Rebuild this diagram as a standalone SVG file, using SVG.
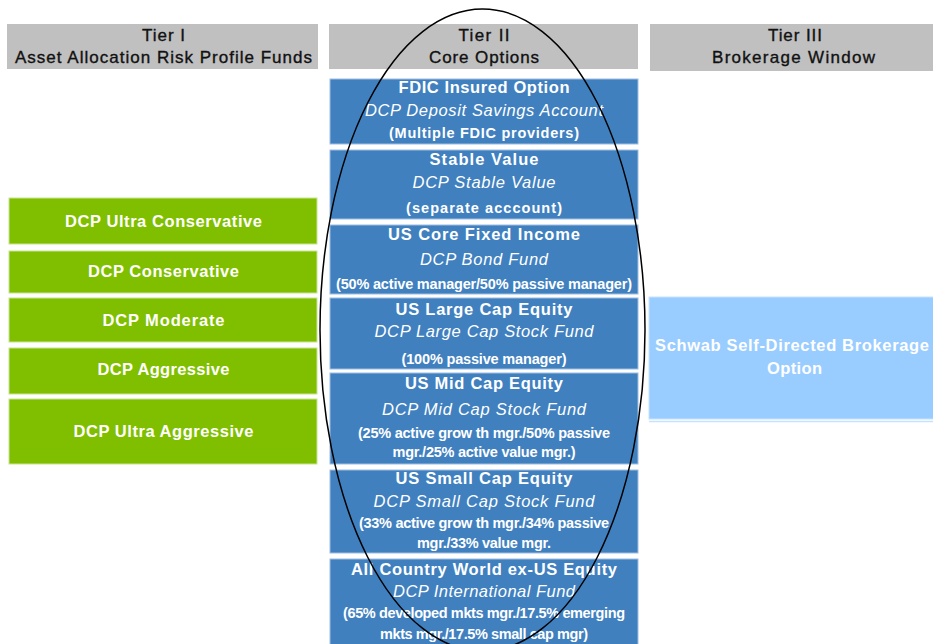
<svg xmlns="http://www.w3.org/2000/svg" width="933" height="644" viewBox="0 0 933 644">
  <style>
    .hdr { fill: #C0C0C0; }
    .core { fill: #4080BF; stroke: #9DBEE2; stroke-width: 1; }
    .risk { fill: #80BF00; stroke: #C8E38F; stroke-width: 1; }
    .brk { fill: #99CCFF; stroke: #C6E2FF; stroke-width: 1; }
    text { font-family: "Liberation Sans", Arial, sans-serif; text-anchor: middle; }
    .ht { font-size: 17px; fill: #111111; stroke: #111111; stroke-width: 0.35; }
    .t { font-size: 16.5px; font-weight: bold; fill: #FFFFFF; }
    .i { font-size: 16.5px; font-style: italic; fill: #FFFFFF; }
    .s { font-size: 14.5px; font-weight: bold; fill: #FFFFFF; }
    .ring { fill: none; stroke: #000000; stroke-width: 1.5; }
  </style>

  <!-- Column headers -->
  <g id="header-tier1">
    <rect class="hdr" x="7" y="24" width="311" height="45"/>
    <text class="ht" x="163.5" y="41" textLength="43" lengthAdjust="spacing">Tier I</text>
    <text class="ht" x="163.5" y="63" textLength="297" lengthAdjust="spacing">Asset Allocation Risk Profile Funds</text>
  </g>
  <g id="header-tier2">
    <rect class="hdr" x="329" y="24" width="309" height="45"/>
    <text class="ht" x="484" y="41" textLength="51" lengthAdjust="spacing">Tier II</text>
    <text class="ht" x="484" y="63" textLength="110" lengthAdjust="spacing">Core Options</text>
  </g>
  <g id="header-tier3">
    <rect class="hdr" x="650" y="24" width="290" height="47"/>
    <text class="ht" x="795" y="41" textLength="54" lengthAdjust="spacing">Tier III</text>
    <text class="ht" x="793.5" y="63" textLength="163" lengthAdjust="spacing">Brokerage Window</text>
  </g>

  <!-- Tier I: risk profile funds -->
  <g id="fund-ultra-conservative">
    <rect class="risk" x="9" y="198" width="308" height="46"/>
    <text class="t" x="163.5" y="226.5" textLength="197" lengthAdjust="spacing">DCP Ultra Conservative</text>
  </g>
  <g id="fund-conservative">
    <rect class="risk" x="9" y="251" width="308" height="42"/>
    <text class="t" x="163.5" y="276.5" textLength="151" lengthAdjust="spacing">DCP Conservative</text>
  </g>
  <g id="fund-moderate">
    <rect class="risk" x="9" y="298" width="308" height="44"/>
    <text class="t" x="163.5" y="325.5" textLength="122" lengthAdjust="spacing">DCP Moderate</text>
  </g>
  <g id="fund-aggressive">
    <rect class="risk" x="9" y="348" width="308" height="46"/>
    <text class="t" x="163.5" y="374.5" textLength="132" lengthAdjust="spacing">DCP Aggressive</text>
  </g>
  <g id="fund-ultra-aggressive">
    <rect class="risk" x="9" y="399" width="308" height="65"/>
    <text class="t" x="163.5" y="437" textLength="180" lengthAdjust="spacing">DCP Ultra Aggressive</text>
  </g>

  <!-- Tier II: core options -->
  <g id="core-fdic">
    <rect class="core" x="330" y="79" width="308" height="65"/>
    <text class="t" x="484" y="93" textLength="171" lengthAdjust="spacing">FDIC Insured Option</text>
    <text class="i" x="484" y="115.5" textLength="238" lengthAdjust="spacing">DCP Deposit Savings Account</text>
    <text class="s" x="484" y="138" textLength="190" lengthAdjust="spacing">(Multiple FDIC providers)</text>
  </g>
  <g id="core-stable-value">
    <rect class="core" x="330" y="150" width="308" height="69"/>
    <text class="t" x="484" y="164.5" textLength="109" lengthAdjust="spacing">Stable Value</text>
    <text class="i" x="484" y="187.5" textLength="143" lengthAdjust="spacing">DCP Stable Value</text>
    <text class="s" x="484" y="213" textLength="156" lengthAdjust="spacing">(separate acccount)</text>
  </g>
  <g id="core-fixed-income">
    <rect class="core" x="330" y="225" width="308" height="69"/>
    <text class="t" x="484" y="239.5" textLength="192" lengthAdjust="spacing">US Core Fixed Income</text>
    <text class="i" x="484" y="264.5" textLength="128" lengthAdjust="spacing">DCP Bond Fund</text>
    <text class="s" x="484" y="289" textLength="296" lengthAdjust="spacing">(50% active manager/50% passive manager)</text>
  </g>
  <g id="core-large-cap">
    <rect class="core" x="330" y="298" width="308" height="71"/>
    <text class="t" x="484" y="314.5" textLength="177" lengthAdjust="spacing">US Large Cap Equity</text>
    <text class="i" x="484" y="336.5" textLength="219" lengthAdjust="spacing">DCP Large Cap Stock Fund</text>
    <text class="s" x="484" y="364" textLength="165" lengthAdjust="spacing">(100% passive manager)</text>
  </g>
  <g id="core-mid-cap">
    <rect class="core" x="330" y="373" width="308" height="91"/>
    <text class="t" x="484" y="388.5" textLength="158" lengthAdjust="spacing">US Mid Cap Equity</text>
    <text class="i" x="484" y="414.5" textLength="204" lengthAdjust="spacing">DCP Mid Cap Stock Fund</text>
    <text class="s" x="484" y="438" textLength="252" lengthAdjust="spacing">(25% active grow th mgr./50% passive</text>
    <text class="s" x="484" y="457" textLength="183" lengthAdjust="spacing">mgr./25% active value mgr.)</text>
  </g>
  <g id="core-small-cap">
    <rect class="core" x="330" y="470" width="308" height="83"/>
    <text class="t" x="484" y="483.5" textLength="177" lengthAdjust="spacing">US Small Cap Equity</text>
    <text class="i" x="484" y="506.5" textLength="221" lengthAdjust="spacing">DCP Small Cap Stock Fund</text>
    <text class="s" x="484" y="528" textLength="250" lengthAdjust="spacing">(33% active grow th mgr./34% passive</text>
    <text class="s" x="484" y="548" textLength="134" lengthAdjust="spacing">mgr./33% value mgr.</text>
  </g>
  <g id="core-international">
    <rect class="core" x="330" y="559" width="308" height="92"/>
    <text class="t" x="484" y="574.5" textLength="266" lengthAdjust="spacing">All Country World ex-US Equity</text>
    <text class="i" x="484" y="596.5" textLength="182" lengthAdjust="spacing">DCP International Fund</text>
    <text class="s" x="484" y="618" textLength="282" lengthAdjust="spacing">(65% developed mkts mgr./17.5% emerging</text>
    <text class="s" x="484" y="639" textLength="208" lengthAdjust="spacing">mkts mgr./17.5% small cap mgr)</text>
  </g>

  <!-- Tier III: brokerage window -->
  <g id="brokerage-window">
    <rect class="brk" x="649" y="297" width="290" height="122"/>
    <line x1="649" y1="421.5" x2="933" y2="421.5" stroke="#C6E2FF" stroke-width="1.5"/>
    <text class="t" x="792" y="351" textLength="274" lengthAdjust="spacing">Schwab Self-Directed Brokerage</text>
    <text class="t" x="794.5" y="374" textLength="55" lengthAdjust="spacing">Option</text>
  </g>

  <!-- Outline ring around the core options column -->
  <g id="connectors">
    <ellipse class="ring" cx="482.5" cy="330" rx="162.5" ry="321"/>
  </g>
</svg>
